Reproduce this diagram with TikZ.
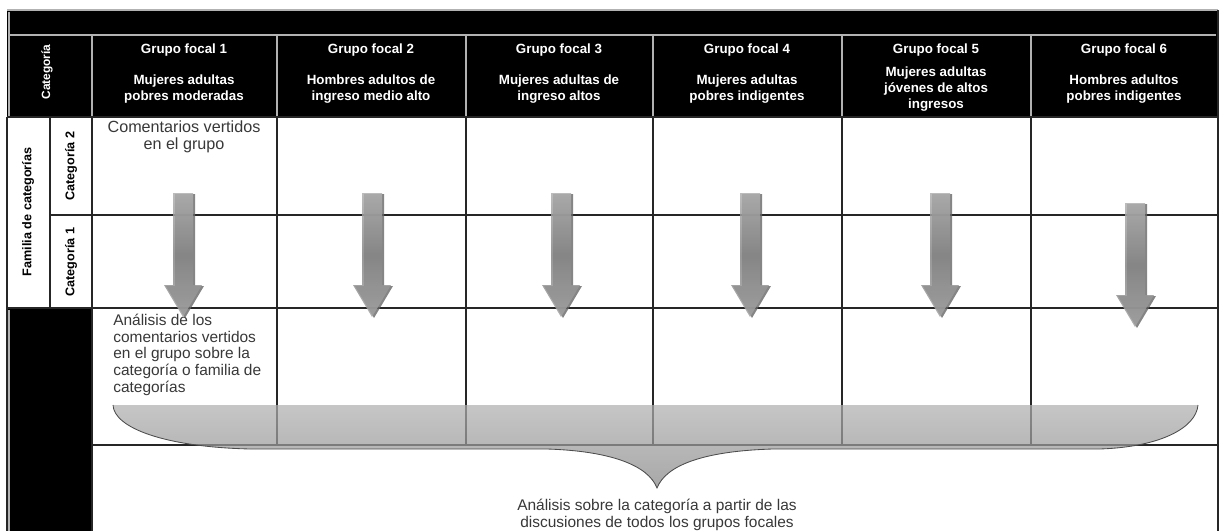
\documentclass[tikz,border=0pt]{standalone}
\usepackage{fontspec}
\setmainfont{Liberation Sans}
\usetikzlibrary{positioning}

\begin{document}
\begin{tikzpicture}[x=0.025cm, y=-0.025cm,
    hdr/.style={text=white, font=\fontsize{9.5}{11.3}\selectfont\bfseries, align=center, inner sep=0},
    body/.style={text=black!78, font=\fontsize{11}{11.8}\selectfont, inner sep=0},
    side/.style={font=\fontsize{9}{10}\selectfont\bfseries, rotate=90, inner sep=0},
    grid/.style={line width=1.3pt, black!85},
    sep/.style={line width=0.8pt, gray!60},
    downarrow/.style={top color=gray!62, bottom color=gray!72, middle color=gray!95, fill opacity=0.85}]
    \useasboundingbox (0,0) rectangle (1220,531);
    % black header and left foot
    \fill[black] (7,10) rectangle (1218,117);
    \fill[black] (7,308) rectangle (92,531);
    \draw[sep] (7,10) -- (1218,10);
    \draw[sep] (9,35) -- (1216,35);
    \draw[sep] (9,12) -- (9,117) (9,310) -- (9,531);
    \foreach \x in {92,277,466,653,842,1031}
        \draw[sep] (\x,35) -- (\x,117);
    % table lines
    \draw[grid] (7,117) -- (1218,117) (50,215) -- (1218,215) (7,308) -- (1218,308) (92,445) -- (1218,445);
    \draw[grid] (7,117) -- (7,531) (50,117) -- (50,308) (92,117) -- (92,531) (1218,10) -- (1218,531);
    \foreach \x in {277,466,653,842,1031}
        \draw[grid] (\x,117) -- (\x,445);
    % headers
    \node[side, text=white, font=\fontsize{8.5}{10}\selectfont\bfseries] (cat) at (47,72) {Categoría};
    \foreach \i/\cx/\desc in {1/184/{Mujeres adultas\\pobres moderadas},
                              2/371/{Hombres adultos de\\ingreso medio alto},
                              3/559/{Mujeres adultas de\\ingreso altos},
                              4/747/{Mujeres adultas\\pobres indigentes},
                              5/936/{Mujeres adultas\\jóvenes de altos\\ingresos},
                              6/1124/{Hombres adultos\\pobres indigentes}} {
        \node[hdr] (g\i) at (\cx,50) {Grupo focal \i};
        \node[hdr] (d\i) at (\cx,89) {\desc};
    }
    \node[side] (fam) at (28,212) {Familia de categorías};
    \node[side] (cat2) at (71,166) {Categoría 2};
    \node[side] (cat1) at (71,262) {Categoría 1};
    % texts
    \node[body, anchor=north, align=center, font=\fontsize{11.5}{11.8}\selectfont] (coment) at (184,121) {Comentarios vertidos\\en el grupo};
    \node[body, anchor=north west, align=left] (analisis) at (113,314) {Análisis de los\\comentarios vertidos\\en el grupo sobre la\\categoría o familia de\\categorías};
    % brace
    \shade[top color=gray!62, bottom color=gray!95, fill opacity=0.72]
        (113,405) -- (1198,405) .. controls (1196,428) and (1160,447) .. (1100,449) -- (773,449)
        .. controls (704,451) and (666,465) .. (657,488) .. controls (648,465) and (610,451) .. (547,449)
        -- (250,449) .. controls (165,447) and (114,428) .. (113,405) -- cycle;
    \draw[black!70, line width=0.6pt] (1198,405) .. controls (1196,428) and (1160,447) .. (1100,449) -- (773,449)
        .. controls (704,451) and (666,465) .. (657,488) .. controls (648,465) and (610,451) .. (547,449)
        -- (250,449) .. controls (165,447) and (114,428) .. (113,405);
    \node[body, anchor=north, align=center] (final) at (657,499) {Análisis sobre la categoría a partir de las\\discusiones de todos los grupos focales};
    % arrows
    \foreach \cx/\ty in {183/193, 372/193, 561/193, 750/193, 940/193, 1135/203} {
        \fill[black!60, fill opacity=0.8] (\cx-8,\ty+1) -- (\cx+12,\ty+1) -- (\cx+12,\ty+93) -- (\cx+21,\ty+93) -- (\cx+2,\ty+125) -- (\cx-17,\ty+93) -- (\cx-8,\ty+93) -- cycle;
        \shade[downarrow] (\cx-10,\ty) -- (\cx+10,\ty) -- (\cx+10,\ty+92) -- (\cx+19,\ty+92) -- (\cx,\ty+124) -- (\cx-19,\ty+92) -- (\cx-10,\ty+92) -- cycle;
    }
\end{tikzpicture}
\end{document}
